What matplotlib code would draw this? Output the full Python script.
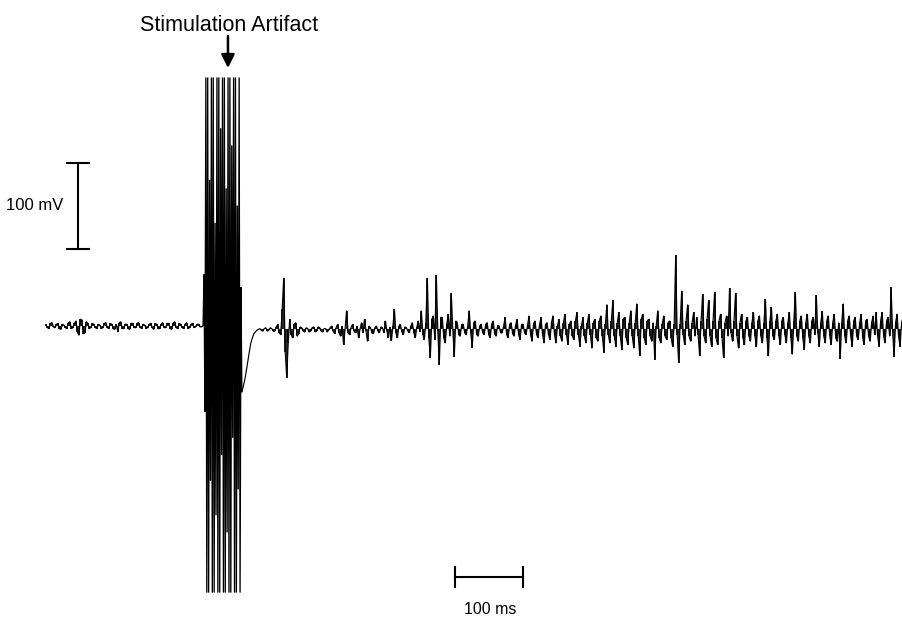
import numpy as np
import matplotlib
matplotlib.use("Agg")
import matplotlib.pyplot as plt

# picture geometry (pixels of the 902x617 output)
PX_PER_MS = 0.68
PX_PER_MV = 0.86
X0_PX = 46       # trace start
Y0_PX = 326      # 0 mV level
W_PX, H_PX = 902, 617

# ---- trace data (mV) ----
# each stretch has a coarse list (samples every dt_ms) and a fine list
# holding the small in-between strokes (half a step later)
dt_ms = 4.4
pre_start_ms = 0.0
pre_baseline_mv = 0
pre_stim_mv = [2, -3, 4, -2, 3, -4, 1, -3, 5, -2, 6, -11, 7, -8, 3, -2, 2, -3,
               1, -2, 4, -3, 2, -4, -7, 5, -3, 2, -4, 3, -2, 4, -3, 1, -2, 3,
               -4, 2, -3, 4, -2, 3, -4, 5, -3, 2, -3, 4, -2, 3, -1, 2, -1]
pre_stim_fine_mv = [-2, 3, -1, 2, -3, 2, -2, 4, -3, 3, -7, 8, -9, 5, -3, 3,
                    -2, 2, -3, 3, -2, 3, -3, 2, 4, -3, 2, -3, 3, -2, 3, -2,
                    2, -3, 2, -2, 3, -3, 2, -2, 3, -3, 3, -2, 3, -2, 2, -3,
                    2, -2, 2, -1, 0]

artifact_start_ms = 231.0
artifact_dt_ms = 1.36
artifact_mv = [0, 60, -100,
               289, -310, 289, -310, 170, -180,
               289, -310, 289, -310, 120, -220,
               289, -310, 289, -310, 230, -150,
               289, -310, 289, -310, 160, -240,
               289, -310, 289, -310, 210, -130,
               289, -310, 289, -310, 140, -190,
               289, -310, 45]

post_start_ms = 288.0
post_baseline_mv = -4
recovery_mv = [-77, -62, -41, -20, -9, -5, -3, -6, -2, -5,
               -3, -6, 2, -10, 56, -60, 8, -14, 4, -9,
               -2, -7, -3, -6, -1, -6, -2, -7, -3, -5]
recovery_fine_mv = [-70, -52, -30, -14, -7, -4, -5, -3, -6, -2,
                    -6, -1, -8, 20, -30, -20, -10, 2, -12, -1,
                    -6, -2, -7, -2, -7, -1, -6, -3, -7, -2]
early_mv = [0, -9, 2, -12, -22, 18, -10, 2, -8, -14,
            4, 8, -18, -2, -9, 0, -8, -2, 6, -14,
            -17, 20, -14, 2, -10, -2, -8, 4, -14, 6]
early_fine_mv = [-6, -2, -8, 0, -4, -8, -2, -6, 0, -4,
                 -8, -6, 0, -8, -2, -6, -1, -8, -6, -1,
                 0, -8, 0, -7, -1, -6, 0, -8, -1, -7]
burst_mv = [18, -16, 56, -37, 12, 59, -45, 10, -20, 14,
            38, -36, 4, -12, 2, -10, 18, -25, 6, -12,
            2, -10, 4, -14, 6, -12, 0, -8, 10, -14,
            4, -12, 8, -16, 2, -10, 12, -18, 6, -14]
burst_fine_mv = [-10, 4, -14, 8, -16, -6, 10, -14, 2, -12,
                 -4, 6, -10, 2, -8, 0, -8, 4, -10, 0,
                 -8, 2, -10, 2, -9, 1, -8, 0, -10, 2,
                 -9, 1, -10, 2, -8, 1, -10, 3, -10, 2]
middle_mv = [10, -20, 4, -16, 12, -20, 8, -18, 14, -22,
             6, -16, 16, -24, 10, -20, 14, -26, 8, -18,
             12, -31, 25, -20, 30, -24, 16, -28, 10, -22,
             18, -26, 26, -35, 14, -22, 8, -18, -39, 18,
             -20, 12, -16, 6, -24, 82, -43, 41, -22, 25]
middle_fine_mv = [-10, 2, -10, 4, -10, 0, -12, 4, -10, 2,
                  -12, 6, -10, 0, -12, 4, -10, 4, -14, 6,
                  -12, 2, -10, 6, -12, 4, -12, 8, -14, 4,
                  -12, 4, -12, 8, -14, 6, -12, 4, 0, -14,
                  2, -12, 4, -14, 2, -10, 2, -10, 6, -12]
late_mv = [-18, 16, 10, -35, 37, -20, 30, -24, 39, -22,
           14, -37, 12, 44, -18, 38, -26, 14, -22, 10,
           -18, 16, -24, 12, -20, 31, -35, 22, -16, 14,
           -22, 10, -20, 16, -33, 39, -18, 12, -28, 14,
           -20, 10, 36, -24, 17, -20, 12, -22, 14, -18,
           -38, 26, -20, 12, -24, 10, -16, 14, -22, 8,
           -18, 12, 16, -24, 16, -20, 10, 45, -36, 14,
           -24, 10, -18]
late_fine_mv = [4, -12, -10, 6, -12, 8, -12, 6, -14, 6,
                -14, 4, -12, -8, 6, -12, 4, -14, 6, -12,
                4, -12, 6, -12, 4, -14, 6, -12, 6, -12,
                6, -10, 4, -14, 6, -12, 6, -14, 4, -12,
                6, -10, -8, 4, -12, 6, -12, 4, -14, 4,
                4, -12, 6, -12, 6, -12, 4, -14, 6, -12,
                4, -10, -12, 6, -12, 6, -12, -6, 4, -12,
                4, -12, 2]

# scale bars
bar_mv = 100
bar_ms = 100
vbar_at_ms = 47.0
vbar_from_mv = 89.5
hbar_from_ms = 601.5
hbar_at_mv = -292.0
arrow_at_ms = 267.6


def px_to_ms(x):
    return (x - X0_PX) / PX_PER_MS


def px_to_mv(y):
    return (Y0_PX - y) / PX_PER_MV


def interleave(start_ms, coarse, fine):
    """Merge coarse samples and the half-step strokes into one series."""
    n = min(len(coarse), len(fine))
    t = np.empty(2 * n)
    v = np.empty(2 * n)
    t[0::2] = start_ms + np.arange(n) * dt_ms
    t[1::2] = t[0::2] + dt_ms / 2
    v[0::2] = coarse[:n]
    v[1::2] = fine[:n]
    return t, v


def main():
    post_mv = recovery_mv + early_mv + burst_mv + middle_mv + late_mv
    post_fine = (recovery_fine_mv + early_fine_mv + burst_fine_mv
                 + middle_fine_mv + late_fine_mv)

    t_pre, v_pre = interleave(pre_start_ms, pre_stim_mv, pre_stim_fine_mv)
    t_post, v_post = interleave(post_start_ms, post_mv, post_fine)
    t_art = artifact_start_ms + np.arange(len(artifact_mv)) * artifact_dt_ms

    fig = plt.figure(figsize=(W_PX / 100, H_PX / 100), dpi=100)
    ax = fig.add_axes([0, 0, 1, 1])
    ax.set_xlim(px_to_ms(0), px_to_ms(W_PX))
    ax.set_ylim(px_to_mv(H_PX), px_to_mv(0))
    ax.axis('off')

    # recorded trace
    line_kw = dict(color='black', solid_joinstyle='miter',
                   solid_capstyle='butt')
    ax.plot(np.append(t_pre, t_art[0]), np.append(v_pre, artifact_mv[0]),
            lw=0.85, **line_kw)
    ax.plot(np.append(t_art, t_post[0]), artifact_mv + [v_post[0]],
            lw=0.95, **line_kw)
    ax.plot(t_post, v_post, lw=0.85, **line_kw)
    ax.vlines(t_pre, pre_baseline_mv, v_pre, color='black', lw=1.2)
    ax.vlines(t_post[12:], post_baseline_mv, v_post[12:], color='black', lw=1.2)

    font = dict(family=['Liberation Sans', 'DejaVu Sans'], color='black')

    # vertical scale bar (100 mV)
    cap_ms = 11 / PX_PER_MS
    ax.plot([vbar_at_ms, vbar_at_ms], [vbar_from_mv, vbar_from_mv + bar_mv],
            color='black', lw=1.5)
    for yv in (vbar_from_mv, vbar_from_mv + bar_mv):
        ax.plot([vbar_at_ms - cap_ms, vbar_at_ms + cap_ms], [yv, yv],
                color='black', lw=1.5)
    ax.text(px_to_ms(35), px_to_mv(210), '100 mV', ha='center', va='baseline',
            fontsize=12, **font)

    # horizontal scale bar (100 ms)
    cap_mv = 10 / PX_PER_MV
    ax.plot([hbar_from_ms, hbar_from_ms + bar_ms], [hbar_at_mv, hbar_at_mv],
            color='black', lw=1.5)
    for xv in (hbar_from_ms, hbar_from_ms + bar_ms):
        ax.plot([xv, xv], [hbar_at_mv - cap_mv, hbar_at_mv + cap_mv],
                color='black', lw=1.5)
    ax.text(px_to_ms(490), px_to_mv(614), '100 ms', ha='center', va='baseline',
            fontsize=11.5, **font)

    # stimulation artifact label + arrow
    ax.text(px_to_ms(229.5), px_to_mv(31), 'Stimulation Artifact', ha='center',
            va='baseline', fontsize=15.5, **font)
    ax.annotate('', xy=(arrow_at_ms, px_to_mv(68)),
                xytext=(arrow_at_ms, px_to_mv(36)),
                arrowprops=dict(arrowstyle='-|>', lw=1.8, color='black',
                                mutation_scale=20, shrinkA=0, shrinkB=0))

    fig.savefig('out.png', dpi=100, facecolor='white')


if __name__ == '__main__':
    main()
